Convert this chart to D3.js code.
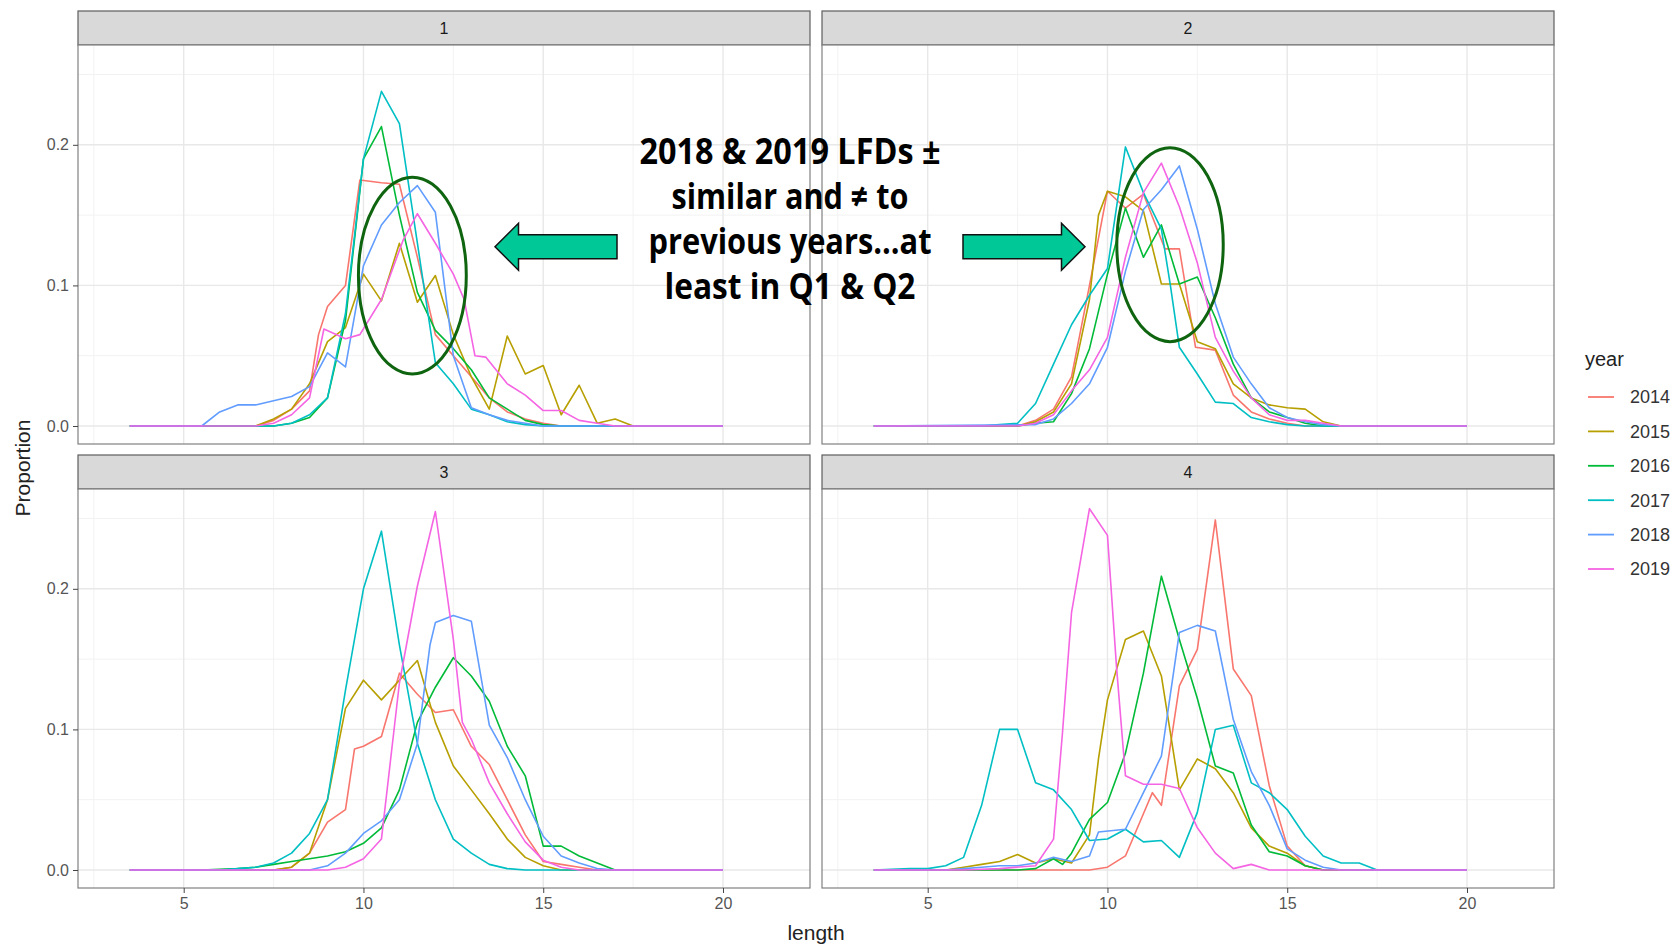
<!DOCTYPE html>
<html>
<head>
<meta charset="utf-8">
<script src="https://cdn.jsdelivr.net/npm/d3@7"></script>
<style>
  body { margin: 0; background: #fff; }
  text { font-family: "Liberation Sans", Arial, sans-serif; }
</style>
</head>
<body>
<svg width="1675" height="945"></svg>
<script>
// ---- data (length, proportion) ----
const years = ["2014", "2015", "2016", "2017", "2018", "2019"];
const yearColors = ["#F8766D", "#B79F00", "#00BA38", "#00BFC4", "#619CFF", "#F564E3"];
const quarters = ["1", "2", "3", "4"];
const xTicks = [5, 10, 15, 20];
const xMinor = [2.5, 7.5, 12.5, 17.5];
const yTicks = [0, 0.1, 0.2];
const yMinor = [0.05, 0.15, 0.25];

const q1 = {
  "2014": [[3.5,0],[7,0],[7.5,0.004],[8,0.012],[8.5,0.025],[8.75,0.065],[9,0.085],[9.5,0.1],[9.9,0.175],[10.5,0.173],[11,0.172],[11.5,0.12],[12,0.065],[12.5,0.05],[13,0.035],[13.5,0.02],[14,0.01],[14.5,0.005],[15,0.002],[15.5,0],[20,0]],
  "2015": [[3.5,0],[7,0],[7.5,0.005],[8,0.012],[8.5,0.03],[9,0.06],[9.5,0.07],[10,0.108],[10.5,0.089],[11,0.13],[11.5,0.088],[12,0.107],[12.5,0.065],[13,0.035],[13.5,0.012],[14,0.064],[14.5,0.037],[15,0.043],[15.5,0.008],[16,0.029],[16.5,0.002],[17,0.005],[17.5,0],[20,0]],
  "2016": [[3.5,0],[7.5,0],[8,0.002],[8.5,0.006],[9,0.02],[9.5,0.075],[10,0.19],[10.5,0.213],[11,0.15],[11.5,0.095],[12,0.068],[12.5,0.055],[13,0.04],[13.5,0.02],[14,0.012],[14.5,0.004],[15,0.001],[15.5,0],[20,0]],
  "2017": [[3.5,0],[7.5,0],[8,0.002],[8.5,0.008],[9,0.02],[9.5,0.08],[10,0.19],[10.5,0.238],[11,0.215],[11.5,0.13],[12,0.045],[12.5,0.03],[13,0.012],[13.5,0.008],[14,0.003],[14.5,0.001],[15,0],[20,0]],
  "2018": [[3.5,0],[5.5,0],[6,0.01],[6.5,0.015],[7,0.015],[7.5,0.018],[8,0.021],[8.5,0.028],[9,0.052],[9.5,0.042],[10,0.114],[10.5,0.143],[11,0.159],[11.5,0.171],[12,0.152],[12.5,0.05],[13,0.013],[13.5,0.008],[14,0.004],[14.5,0.002],[15,0],[20,0]],
  "2019": [[3.5,0],[7,0],[7.5,0.002],[8,0.008],[8.5,0.02],[8.9,0.069],[9.5,0.062],[9.9,0.065],[10.5,0.09],[11.1,0.132],[11.5,0.151],[12,0.13],[12.5,0.108],[12.8,0.09],[13.1,0.05],[13.4,0.049],[14,0.03],[14.5,0.022],[15,0.011],[15.5,0.011],[16,0.004],[16.5,0.002],[17,0],[20,0]]
};

const q2 = {
  "2014": [[3.5,0],[7.5,0],[8,0.004],[8.5,0.012],[9,0.035],[9.5,0.1],[10,0.167],[10.5,0.155],[11,0.165],[11.6,0.126],[12,0.126],[12.45,0.056],[13,0.054],[13.5,0.022],[14,0.01],[14.5,0.005],[15,0.002],[15.5,0],[20,0]],
  "2015": [[3.5,0],[7.5,0],[8,0.003],[8.5,0.01],[9,0.03],[9.5,0.09],[9.75,0.15],[10,0.167],[10.5,0.163],[11,0.153],[11.5,0.101],[12,0.101],[12.5,0.06],[13,0.055],[13.5,0.03],[14,0.02],[14.5,0.015],[15,0.013],[15.5,0.012],[16,0.003],[16.5,0],[20,0]],
  "2016": [[3.5,0],[7.5,0],[8,0.002],[8.5,0.003],[9,0.023],[9.5,0.055],[10,0.108],[10.5,0.155],[11,0.12],[11.5,0.143],[12,0.101],[12.5,0.106],[13,0.077],[13.5,0.044],[14,0.02],[14.5,0.01],[15,0.006],[15.5,0.002],[16,0],[20,0]],
  "2017": [[3.5,0],[6.5,0],[7,0.001],[7.5,0.002],[8,0.016],[8.5,0.044],[9,0.072],[9.5,0.093],[10,0.112],[10.5,0.1985],[11,0.166],[11.5,0.14],[11.75,0.1],[12,0.056],[12.5,0.037],[13,0.017],[13.5,0.016],[14,0.006],[14.5,0.003],[15,0.001],[15.5,0],[20,0]],
  "2018": [[3.5,0],[8,0.001],[8.5,0.005],[9,0.016],[9.5,0.03],[10,0.056],[10.5,0.11],[11,0.154],[11.5,0.168],[12,0.185],[12.5,0.14],[13,0.087],[13.5,0.049],[14,0.03],[14.5,0.013],[15,0.006],[15.5,0.003],[16,0.001],[16.5,0],[20,0]],
  "2019": [[3.5,0],[7.5,0],[8,0.002],[8.5,0.008],[9,0.025],[9.5,0.04],[10,0.063],[10.5,0.12],[11,0.166],[11.5,0.187],[12,0.156],[12.5,0.116],[13,0.063],[13.5,0.039],[14,0.02],[14.5,0.008],[15,0.004],[15.5,0.004],[16,0.002],[16.5,0],[20,0]]
};

const q3 = {
  "2014": [[3.5,0],[7.5,0],[8,0.002],[8.5,0.012],[9,0.034],[9.5,0.043],[9.75,0.086],[10,0.088],[10.5,0.095],[11,0.14],[11.5,0.125],[12,0.112],[12.5,0.114],[13,0.088],[13.5,0.075],[14,0.05],[14.5,0.025],[15,0.006],[15.5,0.004],[16,0.002],[16.5,0],[20,0]],
  "2015": [[3.5,0],[7.5,0],[8,0.002],[8.5,0.012],[9,0.05],[9.5,0.115],[10,0.135],[10.5,0.121],[11,0.135],[11.5,0.149],[12,0.105],[12.5,0.074],[13,0.057],[13.5,0.04],[14,0.022],[14.5,0.009],[15,0.003],[15.5,0],[20,0]],
  "2016": [[3.5,0],[5.5,0],[6.5,0.001],[7,0.002],[7.5,0.004],[8,0.006],[8.5,0.008],[9,0.01],[9.5,0.013],[10,0.019],[10.5,0.03],[11,0.057],[11.5,0.105],[12,0.13],[12.5,0.151],[13,0.138],[13.5,0.12],[14,0.088],[14.5,0.067],[15,0.017],[15.5,0.017],[16,0.01],[16.5,0.005],[17,0],[20,0]],
  "2017": [[3.5,0],[6,0],[6.5,0.001],[7,0.002],[7.5,0.005],[8,0.012],[8.5,0.026],[9,0.05],[9.5,0.128],[10,0.2],[10.5,0.241],[11,0.16],[11.5,0.09],[12,0.05],[12.5,0.022],[13,0.012],[13.5,0.004],[14,0.001],[14.5,0],[20,0]],
  "2018": [[3.5,0],[8.5,0],[9,0.003],[9.5,0.012],[10,0.026],[10.5,0.035],[11,0.05],[11.5,0.09],[11.85,0.16],[12,0.176],[12.5,0.181],[13,0.177],[13.25,0.14],[13.5,0.103],[14,0.08],[14.5,0.05],[15,0.024],[15.5,0.01],[16,0.005],[16.5,0.001],[17,0],[20,0]],
  "2019": [[3.5,0],[9,0],[9.5,0.002],[10,0.008],[10.5,0.022],[11,0.133],[11.5,0.202],[12,0.255],[12.5,0.164],[12.75,0.105],[13,0.093],[13.5,0.062],[14,0.04],[14.5,0.02],[15,0.007],[15.5,0.002],[16,0],[20,0]]
};

const q4 = {
  "2014": [[3.5,0],[9.5,0],[10,0.002],[10.5,0.01],[11,0.04],[11.25,0.055],[11.5,0.046],[12,0.131],[12.5,0.157],[13,0.249],[13.5,0.143],[14,0.124],[14.5,0.06],[15,0.017],[15.5,0.003],[16,0],[20,0]],
  "2015": [[3.5,0],[5.5,0],[6,0.002],[6.5,0.004],[7,0.006],[7.5,0.011],[8,0.005],[8.5,0.008],[9,0.005],[9.5,0.025],[9.75,0.079],[10,0.121],[10.5,0.164],[11,0.17],[11.5,0.138],[12,0.057],[12.5,0.079],[13,0.072],[13.5,0.055],[14,0.03],[14.5,0.017],[15,0.012],[15.5,0.003],[16,0],[20,0]],
  "2016": [[3.5,0],[7.5,0],[8,0.001],[8.5,0.008],[8.75,0.004],[9,0.012],[9.5,0.036],[10,0.048],[10.5,0.083],[11,0.14],[11.5,0.209],[12,0.164],[12.5,0.122],[13,0.074],[13.5,0.069],[14,0.032],[14.5,0.013],[15,0.01],[15.5,0.003],[16,0],[20,0]],
  "2017": [[3.5,0],[4.5,0.001],[5,0.001],[5.5,0.003],[6,0.009],[6.5,0.046],[7,0.1],[7.5,0.1],[8,0.062],[8.5,0.057],[9,0.043],[9.5,0.021],[10,0.022],[10.5,0.029],[11,0.02],[11.5,0.021],[12,0.009],[12.5,0.041],[13,0.1],[13.5,0.103],[14,0.062],[14.5,0.055],[15,0.043],[15.5,0.024],[16,0.01],[16.5,0.005],[17,0.005],[17.5,0],[20,0]],
  "2018": [[3.5,0],[5.5,0],[6,0.001],[6.5,0.002],[7,0.003],[7.5,0.003],[8,0.005],[8.5,0.009],[9,0.006],[9.5,0.01],[9.75,0.027],[10.5,0.029],[11,0.055],[11.5,0.081],[12,0.169],[12.5,0.174],[13,0.17],[13.5,0.107],[14,0.07],[14.5,0.046],[15,0.015],[15.5,0.007],[16,0.002],[16.5,0],[20,0]],
  "2019": [[3.5,0],[6,0],[7,0.001],[8,0.003],[8.5,0.022],[8.75,0.098],[9,0.183],[9.5,0.257],[10,0.238],[10.25,0.145],[10.5,0.067],[11,0.061],[11.5,0.061],[12,0.058],[12.5,0.03],[13,0.012],[13.5,0.001],[14,0.004],[14.5,0],[20,0]]
};

const quarterData = [q1, q2, q3, q4];

// annotation
const noteLines = ["2018 & 2019 LFDs \u00b1", "similar and \u2260 to", "previous years...at", "least in Q1 & Q2"];
const noteWidths = [301, 237, 283, 251];
const rings = [
  { panel: 0, len: 11.36, prop: 0.107, halfLen: 1.5, halfProp: 0.07 },
  { panel: 1, len: 11.74, prop: 0.129, halfLen: 1.48, halfProp: 0.069 }
];

// ---- layout ----
const svg = d3.select("svg");
const padLeft = 78, padTop = 11, panelW = 732, plotH = 399, stripH = 34, gapX = 12, gapY = 11;

const x = d3.scaleLinear().domain([2.06, 22.42]).range([0, panelW]);
const y = d3.scaleLinear().domain([-0.0128, 0.271]).range([plotH, 0]);

const line = d3.line()
    .x(function(d) { return x(d[0]); })
    .y(function(d) { return y(d[1]); });

const panels = [];

quarters.forEach(function(q, i) {
    var col = i % 2, row = Math.floor(i / 2);
    var gx = padLeft + col * (panelW + gapX),
        gy = padTop + row * (stripH + plotH + gapY);

    var g = svg.append("g").attr("transform", "translate(" + gx + "," + gy + ")");

    // strip
    g.append("rect")
        .attr("width", panelW).attr("height", stripH)
        .attr("fill", "#d9d9d9").attr("stroke", "#5e5e5e").attr("stroke-width", 1.2);
    g.append("text")
        .attr("x", panelW / 2).attr("y", stripH / 2)
        .attr("dy", "0.36em").attr("text-anchor", "middle")
        .attr("font-size", 16).attr("fill", "#1a1a1a")
        .text(q);

    var p = g.append("g").attr("transform", "translate(0," + stripH + ")");
    panels.push(p);

    p.append("rect").attr("width", panelW).attr("height", plotH).attr("fill", "#fff");

    // grid
    p.selectAll(".vminor").data(xMinor).enter().append("line")
        .attr("x1", x).attr("x2", x).attr("y1", 0).attr("y2", plotH)
        .attr("stroke", "#f2f2f2").attr("stroke-width", 1);
    p.selectAll(".hminor").data(yMinor).enter().append("line")
        .attr("y1", y).attr("y2", y).attr("x1", 0).attr("x2", panelW)
        .attr("stroke", "#f2f2f2").attr("stroke-width", 1);
    p.selectAll(".vmajor").data(xTicks).enter().append("line")
        .attr("x1", x).attr("x2", x).attr("y1", 0).attr("y2", plotH)
        .attr("stroke", "#e8e8e8").attr("stroke-width", 1.4);
    p.selectAll(".hmajor").data(yTicks).enter().append("line")
        .attr("y1", y).attr("y2", y).attr("x1", 0).attr("x2", panelW)
        .attr("stroke", "#e8e8e8").attr("stroke-width", 1.4);

    // series
    var data = quarterData[i];
    years.forEach(function(yr, k) {
        p.append("path")
            .datum(data[yr])
            .attr("fill", "none")
            .attr("stroke", yearColors[k])
            .attr("stroke-width", 1.6)
            .attr("stroke-linejoin", "round")
            .attr("d", line);
    });

    p.append("rect").attr("width", panelW).attr("height", plotH)
        .attr("fill", "none").attr("stroke", "#808080").attr("stroke-width", 1.2);

    if (col === 0) {
        var ya = p.append("g")
            .call(d3.axisLeft(y).tickValues(yTicks).tickFormat(d3.format(".1f")).tickSize(5).tickPadding(4));
        ya.select(".domain").remove();
        ya.selectAll("line").attr("stroke", "#444");
        ya.selectAll("text").attr("font-size", 16).attr("fill", "#555")
            .style("font-family", "'Liberation Sans', Arial, sans-serif");
    }
    if (row === 1) {
        var xa = p.append("g")
            .attr("transform", "translate(0," + plotH + ")")
            .call(d3.axisBottom(x).tickValues(xTicks).tickSize(5).tickPadding(5));
        xa.select(".domain").remove();
        xa.selectAll("line").attr("stroke", "#444");
        xa.selectAll("text").attr("font-size", 16).attr("fill", "#555")
            .style("font-family", "'Liberation Sans', Arial, sans-serif");
    }
});

// axis titles
svg.append("text")
    .attr("transform", "translate(30,468) rotate(-90)")
    .attr("text-anchor", "middle").attr("font-size", 21).attr("fill", "#222")
    .text("Proportion");
svg.append("text")
    .attr("x", padLeft + panelW + gapX / 2).attr("y", 940)
    .attr("text-anchor", "middle").attr("font-size", 21).attr("fill", "#222")
    .text("length");

// legend
const legend = svg.append("g").attr("transform", "translate(1585,0)");
legend.append("text").attr("x", 0).attr("y", 366)
    .attr("font-size", 20).attr("fill", "#222").text("year");
years.forEach(function(yr, k) {
    var ly = 397 + k * 34.4;
    legend.append("line")
        .attr("x1", 3).attr("x2", 29).attr("y1", ly).attr("y2", ly)
        .attr("stroke", yearColors[k]).attr("stroke-width", 1.8);
    legend.append("text")
        .attr("x", 45).attr("y", ly).attr("dy", "0.36em")
        .attr("font-size", 18).attr("fill", "#333").text(yr);
});

// annotation: rings around 2018/2019 peaks
rings.forEach(function(r) {
    panels[r.panel].append("ellipse")
        .attr("cx", x(r.len)).attr("cy", y(r.prop))
        .attr("rx", x(r.len + r.halfLen) - x(r.len))
        .attr("ry", y(r.prop) - y(r.prop + r.halfProp))
        .attr("fill", "none").attr("stroke", "#0f650f").attr("stroke-width", 3);
});

// annotation: arrows
function arrowPath(tail, tip, cy) {
    var dir = tip > tail ? 1 : -1,
        base = tip - dir * 23.5;
    return "M" + tail + "," + (cy - 12) + "L" + base + "," + (cy - 12) +
        "L" + base + "," + (cy - 23.5) + "L" + tip + "," + cy +
        "L" + base + "," + (cy + 23.5) + "L" + base + "," + (cy + 12) +
        "L" + tail + "," + (cy + 12) + "Z";
}
svg.append("path").attr("d", arrowPath(617, 495, 246.7))
    .attr("fill", "#00c896").attr("stroke", "#111").attr("stroke-width", 1.5);
svg.append("path").attr("d", arrowPath(963, 1085, 246.7))
    .attr("fill", "#00c896").attr("stroke", "#111").attr("stroke-width", 1.5);

// annotation: text
const note = svg.append("g");
noteLines.forEach(function(t, k) {
    note.append("text")
        .attr("x", 790).attr("y", 164 + k * 44.9)
        .attr("text-anchor", "middle")
        .attr("font-size", 35).attr("font-weight", "bold").attr("fill", "#000")
        .attr("textLength", noteWidths[k]).attr("lengthAdjust", "spacingAndGlyphs")
        .style("font-family", "'Open Sans', 'Liberation Sans', Arial, sans-serif")
        .text(t);
});
</script>
</body>
</html>
